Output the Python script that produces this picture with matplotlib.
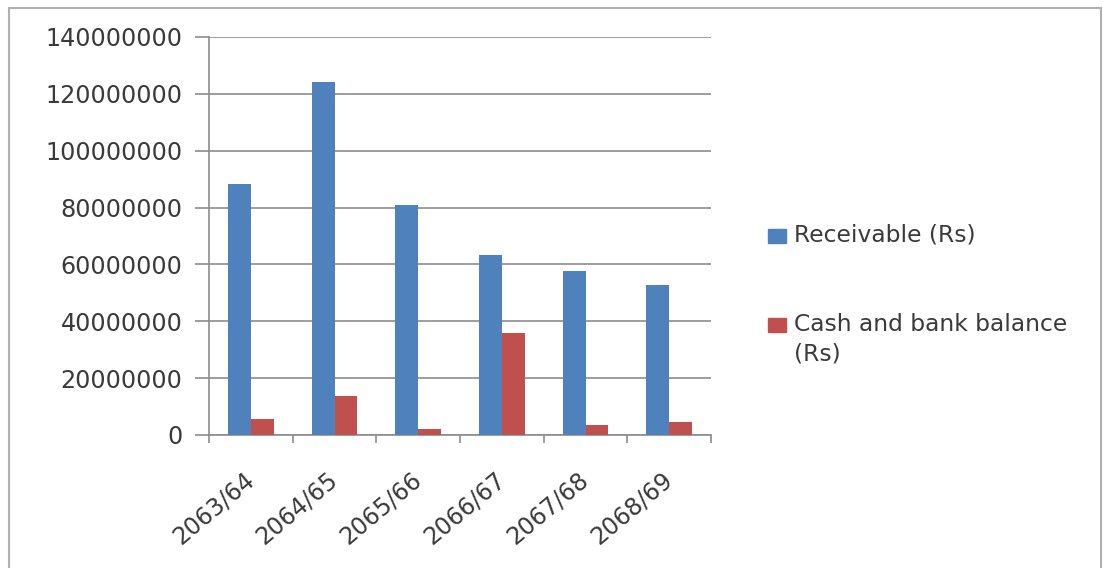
import numpy as np
import matplotlib
matplotlib.use('Agg')
import matplotlib.pyplot as plt
from matplotlib.patches import Rectangle

years = ['2063/64', '2064/65', '2065/66', '2066/67', '2067/68', '2068/69']
receivable = [88200000, 124100000, 80800000, 63200000, 57600000, 52600000]
cash_bank = [5500000, 13700000, 2000000, 35900000, 3600000, 4600000]
series_names = ['Receivable (Rs)', 'Cash and bank balance\n(Rs)']
yticks = np.arange(0, 140000001, 20000000)

blue = '#4f81bd'
red = '#c0504d'
gridc = '#8c8c8c'
txtc = '#3a3a3a'

plt.rcParams['font.family'] = 'DejaVu Sans'

W, H = 1103, 568
fig = plt.figure(figsize=(W / 100, H / 100), dpi=100)
fig.patch.set_facecolor('white')

# plot area in pixel coordinates
left, right, top, bottom = 209, 711, 37, 435
ax = fig.add_axes([left / W, 1 - bottom / H, (right - left) / W, (bottom - top) / H])

x = np.arange(len(years))
bw = 0.273
b1 = ax.bar(x - bw / 2, receivable, bw, color=blue, zorder=3)
b2 = ax.bar(x + bw / 2, cash_bank, bw, color=red, zorder=3)

ax.set_xlim(-0.5, len(years) - 0.5)
ax.set_ylim(0, 140000000)
ax.set_yticks(yticks)
ax.set_yticklabels([str(v) for v in yticks])
ax.yaxis.grid(True, color=gridc, lw=1.2)
ax.set_axisbelow(True)

for s in ['top', 'right']:
    ax.spines[s].set_visible(False)
for s in ['left', 'bottom']:
    ax.spines[s].set_color(gridc)
    ax.spines[s].set_linewidth(1.2)

ax.tick_params(axis='y', length=10, width=1.2, color=gridc, pad=9,
               labelsize=17.2, labelcolor=txtc)
ax.set_xticks(np.arange(len(years) + 1) - 0.5, minor=True)
ax.tick_params(axis='x', which='minor', length=6, width=1.2, color=gridc)
ax.set_xticks(x)
ax.tick_params(axis='x', which='major', length=0, pad=30)
ax.set_xticklabels(years, rotation=40, ha='right', va='center',
                   rotation_mode='anchor', fontsize=17, color=txtc)

# legend drawn beside the plot area
entries = [(series_names[0], blue, 236), (series_names[1], red, 325)]
for name, col, yc in entries:
    fig.patches.append(Rectangle((768 / W, 1 - (yc + 7) / H), 18 / W, 14 / H,
                                 transform=fig.transFigure, color=col))
    fig.text(794 / W, 1 - (yc - 12) / H, name, ha='left', va='top',
             fontsize=16.8, color=txtc, linespacing=1.35)

# outer chart border
fig.patches.append(Rectangle((9 / W, -0.05), (1101 - 9) / W, 1.05 - 8 / H,
                             transform=fig.transFigure, fill=False,
                             edgecolor='#b0b0b0', lw=1.5))

fig.savefig('out.png', dpi=100)
